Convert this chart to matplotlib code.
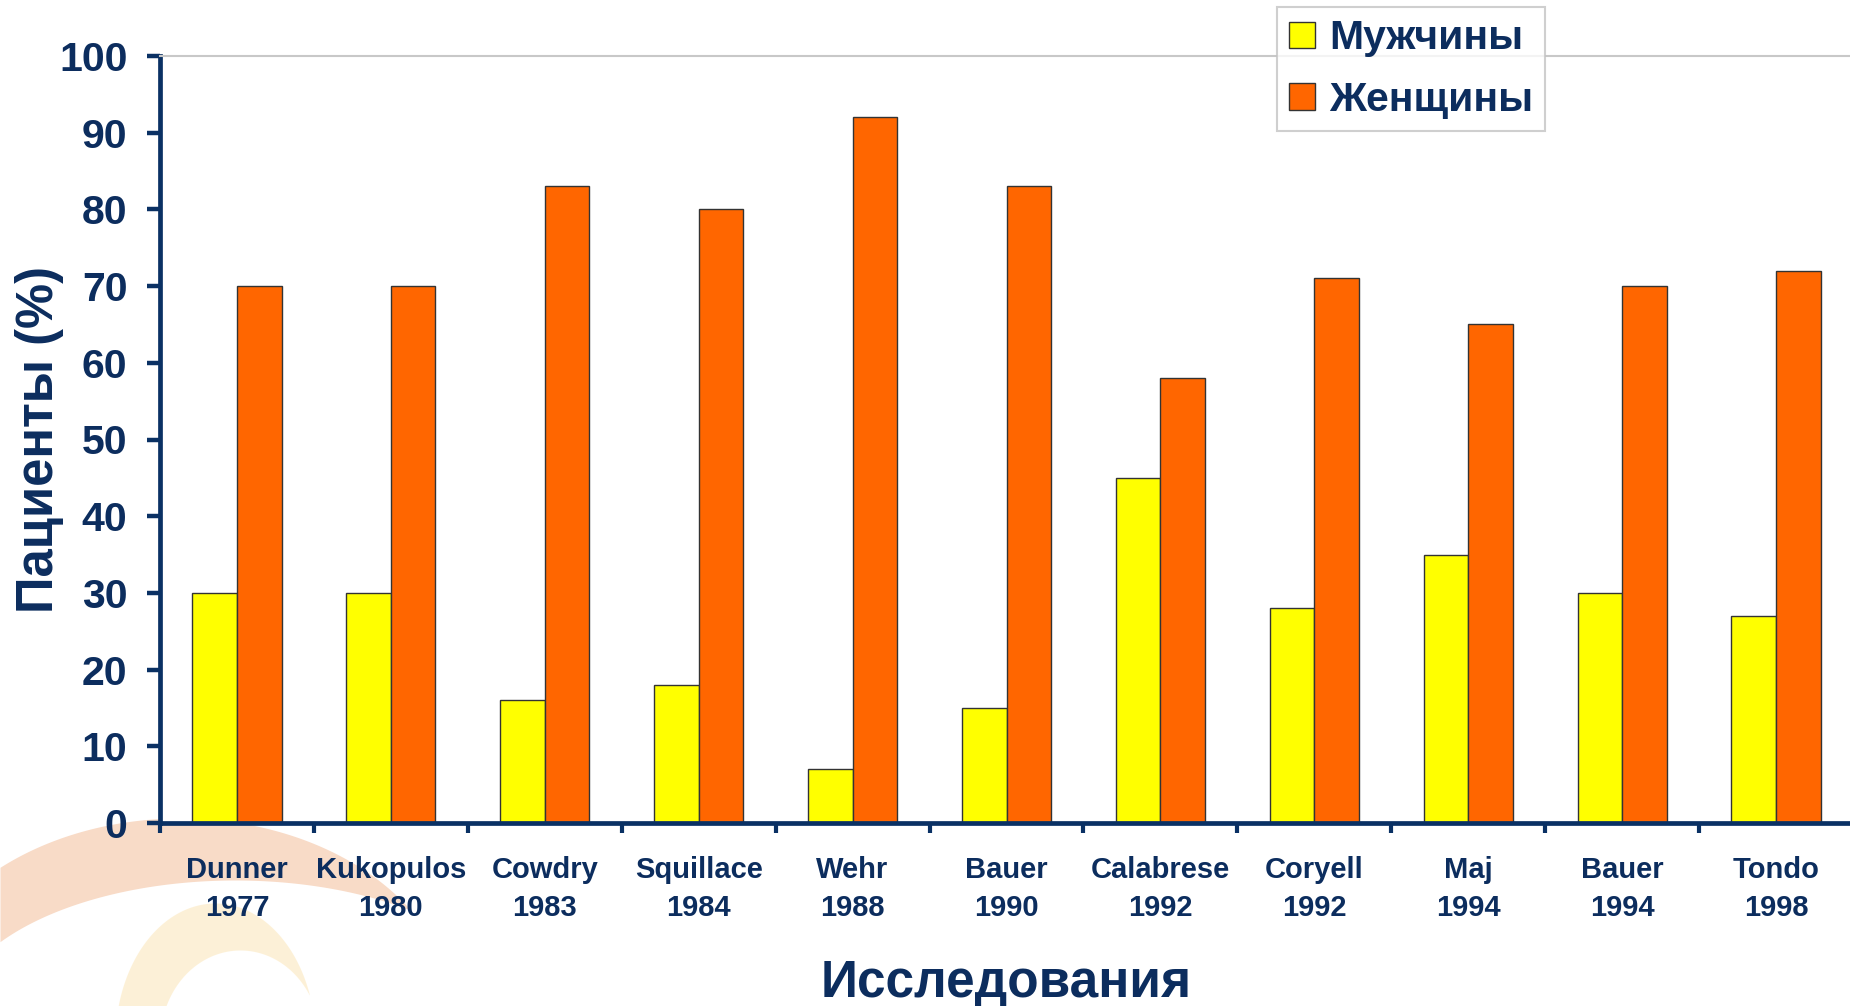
import numpy as np
import matplotlib
matplotlib.use("Agg")
import matplotlib.pyplot as plt
from matplotlib.ticker import FixedLocator, NullFormatter, FixedFormatter

plt.rcParams['font.family'] = ['Liberation Sans', 'DejaVu Sans']

# ---- data ----
studies = ["Dunner", "Kukopulos", "Cowdry", "Squillace", "Wehr", "Bauer",
           "Calabrese", "Coryell", "Maj", "Bauer", "Tondo"]
years = ["1977", "1980", "1983", "1984", "1988", "1990",
         "1992", "1992", "1994", "1994", "1998"]
men = [30, 30, 16, 18, 7, 15, 45, 28, 35, 30, 27]
women = [70, 70, 83, 80, 92, 83, 58, 71, 65, 70, 72]
series_names = ["Мужчины", "Женщины"]
y_ticks = [0, 10, 20, 30, 40, 50, 60, 70, 80, 90, 100]
y_label = "Пациенты (%)"
x_label = "Исследования"

TEXT = "#0c2d5e"
SPINE = "#0a3164"
YELLOW = "#ffff00"
ORANGE = "#ff6600"

W, H = 1850, 1006
fig = plt.figure(figsize=(W / 100, H / 100), dpi=100)
fig.patch.set_facecolor("white")

# ---- background decoration (watermark swooshes) ----
bg = fig.add_axes([0, 0, 1, 1], zorder=0)
bg.set_xlim(0, W)
bg.set_ylim(H, 0)
bg.axis("off")


def crescent(ax, c_out, r_out, c_in, r_in, x0, x1, color, alpha):
    xs = np.linspace(x0, x1, 600)
    def upper(c, r):
        t = 1 - ((xs - c[0]) / r[0]) ** 2
        y = np.where(t > 0, c[1] - r[1] * np.sqrt(np.clip(t, 0, None)), np.nan)
        return y
    yo = upper(c_out, r_out)
    yi = upper(c_in, r_in)
    yi = np.where(np.isnan(yi), H + 50, yi)
    m = (~np.isnan(yo)) & (yi > yo)
    ax.fill_between(xs[m], yo[m], np.minimum(yi[m], H + 50), color=color,
                    alpha=alpha, linewidth=0)

crescent(bg, (180, 1020), (275, 202), (235, 1022), (285, 142), 0, 460,
         "#f4c3a2", 0.6)
crescent(bg, (215, 1040), (100, 137), (240, 1040), (80, 90), 100, 330,
         "#fbe3b0", 0.5)

# ---- main axes ----
left = 160 / W
right = 1853 / W
bottom = (H - 823) / H
top = (H - 56) / H
ax = fig.add_axes([left, bottom, right - left, top - bottom], zorder=1)
ax.set_facecolor("white")

x = np.arange(len(studies))
bw = 0.29
ax.bar(x - bw / 2, men, width=bw, color=YELLOW, edgecolor="#333333",
       linewidth=1.0, label=series_names[0], zorder=2)
ax.bar(x + bw / 2, women, width=bw, color=ORANGE, edgecolor="#333333",
       linewidth=1.0, label=series_names[1], zorder=2)

ax.set_xlim(-0.5, len(studies) - 0.5)
ax.set_ylim(0, 100)

# spines
for s in ["left", "bottom"]:
    ax.spines[s].set_color(SPINE)
    ax.spines[s].set_linewidth(3.4)
ax.spines["right"].set_visible(False)
ax.spines["top"].set_color("#c8c8c8")
ax.spines["top"].set_linewidth(1.5)

# y ticks
ax.set_yticks(y_ticks)
ax.set_yticklabels([str(v) for v in y_ticks])
ax.tick_params(axis="y", which="major", length=9.5, width=3.2, color=SPINE,
               pad=14, labelsize=29.5, labelcolor=TEXT)
for t in ax.get_yticklabels():
    t.set_fontweight("bold")

# x ticks: major at category boundaries (marks), minor at centers (labels)
ax.xaxis.set_major_locator(FixedLocator(np.arange(-0.5, len(studies), 1.0)))
ax.xaxis.set_major_formatter(NullFormatter())
ax.xaxis.set_minor_locator(FixedLocator(x))
ax.xaxis.set_minor_formatter(FixedFormatter([f"{s}\n{y}" for s, y in zip(studies, years)]))
ax.tick_params(axis="x", which="major", length=7, width=3.0, color=SPINE,
               direction="out")
ax.tick_params(axis="x", which="minor", length=0, pad=24, labelsize=21,
               labelcolor=TEXT)
for t in ax.get_xticklabels(minor=True):
    t.set_fontweight("bold")
    t.set_linespacing(1.42)

# axis labels
ax.set_ylabel(y_label, fontsize=36.5, fontweight="bold", color=TEXT)
ax.yaxis.set_label_coords((40 - 160) / 1693, 0.5)
ax.yaxis.label.set_va("center")
ax.set_xlabel(x_label, fontsize=37, fontweight="bold", color=TEXT)
ax.xaxis.set_label_coords(0.5, (823 - 997) / 767)
ax.xaxis.label.set_va("baseline")

# legend
leg = ax.legend(loc="upper left", bbox_to_anchor=(1277 / W, 1 - 7 / H),
                bbox_transform=fig.transFigure, frameon=True, fancybox=False,
                prop={"size": 29.5, "weight": "bold"}, handlelength=0.62,
                handleheight=0.62, handletextpad=0.35, borderpad=0.3,
                labelspacing=0.58, borderaxespad=0)
leg.get_frame().set_edgecolor("#c4c4c4")
leg.get_frame().set_linewidth(1.5)
for t in leg.get_texts():
    t.set_color(TEXT)
leg.set_zorder(5)

fig.savefig("out.png", dpi=100, facecolor="white")
